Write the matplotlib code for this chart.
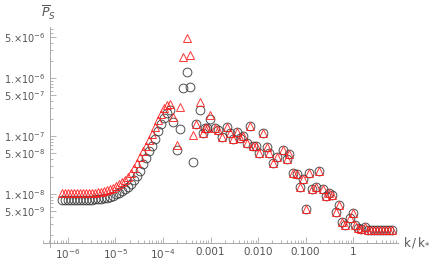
import numpy as np
import matplotlib.pyplot as plt
from matplotlib.ticker import FixedLocator, LogLocator, NullFormatter

plt.rcParams['mathtext.fontset'] = 'dejavusans'

# wavenumber k/k_*
k = [7.48e-7, 8.65e-7, 1.0e-6, 1.156e-6, 1.337e-6, 1.546e-6, 1.79e-6, 2.07e-6,
     2.39e-6, 2.77e-6, 3.20e-6, 3.70e-6, 4.28e-6, 4.95e-6, 5.73e-6, 6.62e-6,
     7.66e-6, 8.86e-6, 1.025e-5, 1.185e-5, 1.37e-5, 1.585e-5, 1.83e-5, 2.12e-5,
     2.45e-5, 2.84e-5, 3.28e-5, 3.79e-5, 4.39e-5, 5.07e-5, 5.86e-5, 6.79e-5,
     7.85e-5, 9.08e-5, 1.05e-4, 1.21e-4, 1.40e-4, 1.62e-4, 1.97e-4, 2.28e-4,
     2.64e-4, 3.20e-4, 3.70e-4, 4.28e-4, 4.95e-4, 6.01e-4, 6.95e-4, 7.66e-4,
     8.44e-4, 9.76e-4, 1.245e-3, 1.44e-3, 1.745e-3, 2.22e-3, 2.57e-3, 2.98e-3,
     3.61e-3, 4.18e-3, 4.83e-3, 5.86e-3, 6.79e-3, 7.85e-3, 9.08e-3, 1.05e-2,
     1.27e-2, 1.545e-2, 1.70e-2, 2.07e-2, 2.51e-2, 3.36e-2, 4.08e-2, 4.50e-2,
     5.46e-2, 6.62e-2, 7.66e-2, 8.86e-2, 0.1025, 0.1185, 0.137, 0.166,
     0.192, 0.233, 0.270, 0.313, 0.361, 0.439, 0.507, 0.586,
     0.679, 0.865, 1.0, 1.10, 1.274, 1.47, 1.79, 2.07,
     2.39, 2.77, 3.20, 3.70, 4.28, 4.95, 5.73, 6.62]

# black circles
P_black = [8.0e-9, 8.0e-9, 8.0e-9, 8.0e-9, 8.0e-9, 8.0e-9, 8.0e-9, 8.0e-9,
           8.0e-9, 8.0e-9, 8.0e-9, 8.05e-9, 8.1e-9, 8.2e-9, 8.36e-9, 8.53e-9,
           8.88e-9, 9.24e-9, 9.8e-9, 1.04e-8, 1.13e-8, 1.22e-8, 1.32e-8, 1.49e-8,
           1.74e-8, 2.04e-8, 2.49e-8, 3.29e-8, 4.17e-8, 5.51e-8, 6.72e-8, 8.88e-8,
           1.22e-7, 1.61e-7, 2.04e-7, 2.49e-7, 2.81e-7, 1.74e-7, 5.74e-8, 1.32e-7,
           6.72e-7, 1.27e-6, 7.0e-7, 3.56e-8, 1.61e-7, 2.81e-7, 1.13e-7, 1.37e-7,
           1.37e-7, 1.96e-7, 1.37e-7, 1.27e-7, 9.62e-8, 1.43e-7, 1.13e-7, 8.88e-8,
           1.17e-7, 9.24e-8, 1.0e-7, 7.58e-8, 1.49e-7, 6.72e-8, 6.72e-8, 5.09e-8,
           1.13e-7, 6.46e-8, 5.09e-8, 3.42e-8, 4.34e-8, 5.74e-8, 4.01e-8, 4.90e-8,
           2.30e-8, 2.21e-8, 1.32e-8, 1.82e-8, 5.51e-9, 2.30e-8, 1.22e-8, 1.32e-8,
           2.49e-8, 1.22e-8, 9.24e-9, 1.04e-8, 9.62e-9, 4.90e-9, 6.46e-9, 3.29e-9,
           2.92e-9, 3.86e-9, 4.70e-9, 2.92e-9, 2.59e-9, 2.49e-9, 2.70e-9, 2.39e-9,
           2.39e-9, 2.39e-9, 2.39e-9, 2.39e-9, 2.39e-9, 2.39e-9, 2.39e-9, 2.39e-9]

# red triangles
P_red = [1.06e-8, 1.06e-8, 1.06e-8, 1.06e-8, 1.06e-8, 1.06e-8, 1.06e-8, 1.06e-8,
         1.06e-8, 1.06e-8, 1.06e-8, 1.06e-8, 1.08e-8, 1.10e-8, 1.13e-8, 1.17e-8,
         1.22e-8, 1.29e-8, 1.37e-8, 1.49e-8, 1.61e-8, 1.74e-8, 1.96e-8, 2.30e-8,
         2.81e-8, 3.42e-8, 4.34e-8, 5.51e-8, 6.72e-8, 8.53e-8, 1.08e-7, 1.43e-7,
         1.89e-7, 2.39e-7, 3.04e-7, 3.42e-7, 3.56e-7, 2.13e-7, 7.0e-8, 3.16e-7,
         2.30e-6, 4.90e-6, 2.49e-6, 1.04e-7, 1.61e-7, 3.86e-7, 1.13e-7, 1.37e-7,
         1.37e-7, 2.30e-7, 1.37e-7, 1.27e-7, 9.62e-8, 1.43e-7, 1.13e-7, 8.88e-8,
         1.17e-7, 9.24e-8, 1.0e-7, 7.58e-8, 1.49e-7, 6.72e-8, 6.72e-8, 5.09e-8,
         1.13e-7, 6.46e-8, 5.09e-8, 3.42e-8, 4.34e-8, 5.74e-8, 4.01e-8, 4.90e-8,
         2.30e-8, 2.21e-8, 1.32e-8, 1.82e-8, 5.51e-9, 2.30e-8, 1.22e-8, 1.32e-8,
         2.49e-8, 1.22e-8, 9.24e-9, 1.04e-8, 9.62e-9, 4.90e-9, 6.46e-9, 3.29e-9,
         2.92e-9, 3.86e-9, 4.70e-9, 2.92e-9, 2.59e-9, 2.49e-9, 2.70e-9, 2.39e-9,
         2.39e-9, 2.39e-9, 2.39e-9, 2.39e-9, 2.39e-9, 2.39e-9, 2.39e-9, 2.39e-9]

xticks = [1e-6, 1e-5, 1e-4, 1e-3, 1e-2, 1e-1, 1]
xticklabels = [r'10$^{-6}$', r'10$^{-5}$', r'10$^{-4}$', '0.001', '0.010', '0.100', '1']
yticks = [5e-6, 1e-6, 5e-7, 1e-7, 5e-8, 1e-8, 5e-9]
yticklabels = ['5.×10$^{-6}$', '1.×10$^{-6}$', '5.×10$^{-7}$', '1.×10$^{-7}$',
               '5.×10$^{-8}$', '1.×10$^{-8}$', '5.×10$^{-9}$']

W, H = 436, 267
fig = plt.figure(figsize=(W / 100, H / 100), dpi=100)
ax = fig.add_axes([43 / W, 1 - 247 / H, (398 - 43) / W, (247 - 27) / H])

ax.plot(k, P_black, 'o', ms=6.3, mfc='none', mec='#3a3a3a', mew=0.7, alpha=0.9)
ax.plot(k, P_red, '^', ms=5.8, mfc='none', mec='#ff2020', mew=0.7, alpha=0.9)

ax.set_xscale('log')
ax.set_yscale('log')
ax.set_xlim(10 ** -6.526, 10 ** 0.947)
ax.set_ylim(10 ** -8.914, 10 ** -5.121)

for s in ['top', 'right']:
    ax.spines[s].set_visible(False)
ax.spines['left'].set_position(('data', 10 ** -6.379))
ax.spines['bottom'].set_position(('data', 10 ** -8.845))
for s in ['left', 'bottom']:
    ax.spines[s].set_color('#a8a8a8')
    ax.spines[s].set_linewidth(0.7)

ax.xaxis.set_major_locator(FixedLocator(xticks))
ax.set_xticklabels(xticklabels)
ax.xaxis.set_minor_locator(LogLocator(base=10, subs=np.arange(2, 10), numticks=20))
ax.xaxis.set_minor_formatter(NullFormatter())
ax.yaxis.set_major_locator(FixedLocator(yticks))
ax.set_yticklabels(yticklabels)
ax.yaxis.set_minor_locator(LogLocator(base=10, subs=[2, 3, 4, 6, 7, 8, 9], numticks=20))
ax.yaxis.set_minor_formatter(NullFormatter())

ax.tick_params(which='both', direction='in', color='#a8a8a8', width=0.6,
               labelcolor='#555555')
ax.tick_params(axis='x', labelsize=7.5)
ax.tick_params(axis='y', labelsize=7)
ax.tick_params(which='major', length=4, pad=3)
ax.tick_params(which='minor', length=2)

fig.text(48 / W, 1 - 13 / H, r'$\overline{P}_S$', fontsize=9, color='#555555',
         ha='center', va='center')
fig.text(403 / W, 1 - 243 / H, r'$\mathrm{k\,/\,k}_{*}$', fontsize=8.5,
         color='#555555', ha='left', va='center')

fig.savefig('out.png', dpi=100)
